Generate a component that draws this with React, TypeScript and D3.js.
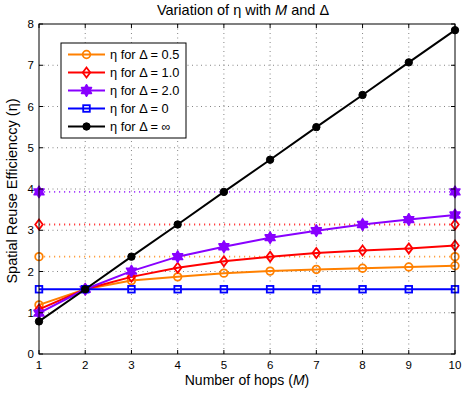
import React, { useRef, useEffect } from 'react';
import * as d3 from 'd3';

const hops = [1, 2, 3, 4, 5, 6, 7, 8, 9, 10];
const eta05 = [1.19, 1.57, 1.78, 1.87, 1.96, 2.01, 2.05, 2.08, 2.11, 2.14];
const eta10 = [1.08, 1.57, 1.87, 2.09, 2.25, 2.36, 2.45, 2.51, 2.56, 2.63];
const eta20 = [0.99, 1.57, 2.01, 2.36, 2.6, 2.82, 2.99, 3.14, 3.26, 3.37];
const eta0 = [1.57, 1.57, 1.57, 1.57, 1.57, 1.57, 1.57, 1.57, 1.57, 1.57];
const etaInf = [0.79, 1.57, 2.36, 3.14, 3.93, 4.71, 5.5, 6.28, 7.07, 7.85];
// limits of the finite-delta curves (dotted lines)
const limits = [2.36, 3.14, 3.93];
const xTicks = [1, 2, 3, 4, 5, 6, 7, 8, 9, 10];
const yTicks = [0, 1, 2, 3, 4, 5, 6, 7, 8];

const series = [
  { label: '\u03B7 for \u0394 = 0.5', values: eta05, color: '#ff8000', marker: 'circle', limit: 0 },
  { label: '\u03B7 for \u0394 = 1.0', values: eta10, color: '#ff0000', marker: 'diamond', limit: 1 },
  { label: '\u03B7 for \u0394 = 2.0', values: eta20, color: '#8800ff', marker: 'star', limit: 2 },
  { label: '\u03B7 for \u0394 = 0', values: eta0, color: '#0000ff', marker: 'square', limit: -1 },
  { label: '\u03B7 for \u0394 = \u221E', values: etaInf, color: '#000000', marker: 'dot', limit: -1 },
];

const font = '"Liberation Sans", Arial, sans-serif';

const App = () => {
  const svgRef = useRef(null);

  useEffect(() => {
    const svg = d3.select(svgRef.current);
    svg.selectAll('*').remove();

    const left = 39, right = 455, top = 24, bottom = 354;
    const x = d3.scaleLinear().domain([1, 10]).range([left, right]);
    const y = d3.scaleLinear().domain([0, 8]).range([bottom, top]);

    const drawMarker = (g, type, cx, cy, color) => {
      if (type === 'circle') {
        g.append('circle').attr('cx', cx).attr('cy', cy).attr('r', 3.8)
          .style('fill', 'none').style('stroke', color).style('stroke-width', 1.8);
      } else if (type === 'diamond') {
        const r = 5;
        g.append('path').attr('d', `M${cx},${cy - r}L${cx + r * 0.75},${cy}L${cx},${cy + r}L${cx - r * 0.75},${cy}Z`)
          .style('fill', 'none').style('stroke', color).style('stroke-width', 1.8);
      } else if (type === 'star') {
        const r = 5.8;
        const tri = (a0) => d3.range(3).map((k) => {
          const a = a0 + (k * 2 * Math.PI) / 3;
          return [cx + r * Math.sin(a), cy - r * Math.cos(a)];
        });
        const p = (pts) => 'M' + pts.map((q) => q.join(',')).join('L') + 'Z';
        g.append('path').attr('d', p(tri(0)) + p(tri(Math.PI)))
          .style('fill', color).style('stroke', color).style('stroke-width', 1.5)
          .style('stroke-linejoin', 'round');
      } else if (type === 'square') {
        g.append('rect').attr('x', cx - 3.3).attr('y', cy - 3.3).attr('width', 6.6).attr('height', 6.6)
          .style('fill', 'none').style('stroke', color).style('stroke-width', 1.8);
      } else {
        g.append('circle').attr('cx', cx).attr('cy', cy).attr('r', 3.7)
          .style('fill', color).style('stroke', color);
      }
    };

    svg.append('rect').attr('width', 462).attr('height', 397).style('fill', '#fff');

    // grid
    const grid = svg.append('g');
    grid.selectAll('.gx').data(xTicks.slice(1, -1)).enter().append('line')
      .attr('x1', (d) => x(d)).attr('x2', (d) => x(d)).attr('y1', top).attr('y2', bottom)
      .style('stroke', '#666').style('stroke-width', 0.8).style('stroke-dasharray', '1 3.5');
    grid.selectAll('.gy').data(yTicks.slice(1, -1)).enter().append('line')
      .attr('y1', (d) => y(d)).attr('y2', (d) => y(d)).attr('x1', left).attr('x2', right)
      .style('stroke', '#666').style('stroke-width', 0.8).style('stroke-dasharray', '1 3.5');

    // dotted limits
    series.filter((s) => s.limit >= 0).forEach((s) => {
      const v = limits[s.limit];
      const g = svg.append('g');
      g.append('line').attr('x1', x(1)).attr('x2', x(10)).attr('y1', y(v)).attr('y2', y(v))
        .style('stroke', s.color).style('stroke-width', 1.8).style('stroke-dasharray', '1.2 3.8')
        .style('opacity', 0.75);
      drawMarker(g, s.marker, x(1), y(v), s.color);
      drawMarker(g, s.marker, x(10), y(v), s.color);
    });

    const line = d3.line().x((d) => x(d[0])).y((d) => y(d[1]));
    series.forEach((s) => {
      const g = svg.append('g');
      const pts = hops.map((h, i) => [h, s.values[i]]);
      g.append('path').attr('d', line(pts)).style('fill', 'none')
        .style('stroke', s.color).style('stroke-width', 2);
      pts.forEach((p) => drawMarker(g, s.marker, x(p[0]), y(p[1]), s.color));
    });

    // axes box and ticks
    const ax = svg.append('g');
    ax.append('rect').attr('x', left).attr('y', top).attr('width', right - left).attr('height', bottom - top)
      .style('fill', 'none').style('stroke', '#000').style('stroke-width', 1);
    const tl = 4;
    xTicks.forEach((t) => {
      ax.append('line').attr('x1', x(t)).attr('x2', x(t)).attr('y1', bottom).attr('y2', bottom - tl).style('stroke', '#000');
      ax.append('line').attr('x1', x(t)).attr('x2', x(t)).attr('y1', top).attr('y2', top + tl).style('stroke', '#000');
      ax.append('text').attr('x', x(t)).attr('y', bottom + 15).attr('text-anchor', 'middle')
        .style('font-family', font).style('font-size', '11.5px').text(t);
    });
    yTicks.forEach((t) => {
      ax.append('line').attr('y1', y(t)).attr('y2', y(t)).attr('x1', left).attr('x2', left + tl).style('stroke', '#000');
      ax.append('line').attr('y1', y(t)).attr('y2', y(t)).attr('x1', right).attr('x2', right - tl).style('stroke', '#000');
      ax.append('text').attr('x', left - 5).attr('y', y(t) + 4).attr('text-anchor', 'end')
        .style('font-family', font).style('font-size', '11.5px').text(t);
    });

    // labels
    const title = svg.append('text').attr('x', 243).attr('y', 15).attr('text-anchor', 'middle')
      .style('font-family', font).style('font-size', '14.5px');
    title.append('tspan').text('Variation of \u03B7 with ');
    title.append('tspan').style('font-style', 'italic').text('M');
    title.append('tspan').text(' and \u0394');

    const xl = svg.append('text').attr('x', 247).attr('y', 385).attr('text-anchor', 'middle')
      .style('font-family', font).style('font-size', '14px');
    xl.append('tspan').text('Number of hops (');
    xl.append('tspan').style('font-style', 'italic').text('M');
    xl.append('tspan').text(')');

    svg.append('text').attr('transform', 'translate(17, 191) rotate(-90)')
      .attr('text-anchor', 'middle').style('font-family', font).style('font-size', '14.5px')
      .text('Spatial Reuse Efficienccy (\u03B7)');

    // legend
    const lg = svg.append('g');
    lg.append('rect').attr('x', 61).attr('y', 43).attr('width', 125).attr('height', 95)
      .style('fill', '#fff').style('stroke', '#000').style('stroke-width', 1);
    series.forEach((s, i) => {
      const ly = 54.5 + i * 18;
      lg.append('line').attr('x1', 68).attr('x2', 105).attr('y1', ly).attr('y2', ly)
        .style('stroke', s.color).style('stroke-width', 2);
      drawMarker(lg, s.marker, 86.5, ly, s.color);
      lg.append('text').attr('x', 110).attr('y', ly + 4.5).style('font-family', font)
        .style('font-size', '12.8px').text(s.label);
    });
  }, []);

  return (
    <svg ref={svgRef} width={462} height={397} style={{ position: 'absolute', left: 0, top: 0 }} />
  );
};

export default App;
